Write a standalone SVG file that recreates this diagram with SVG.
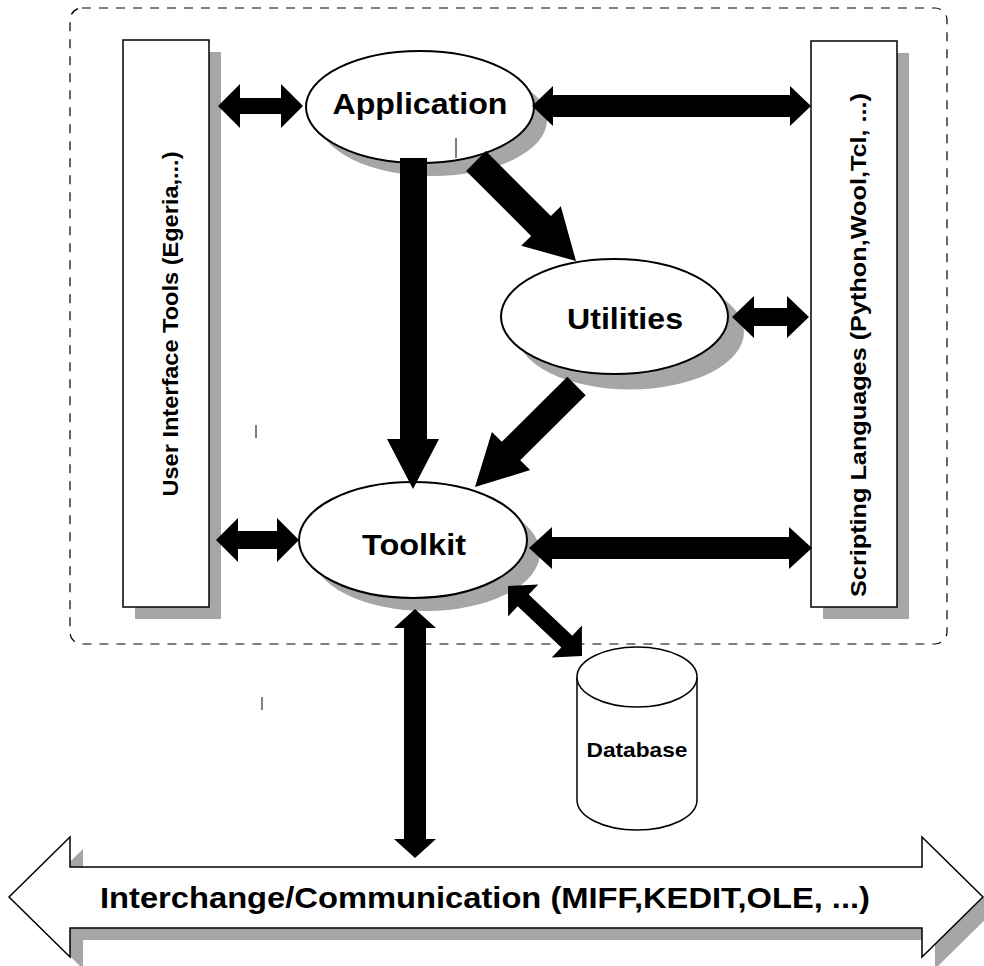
<svg xmlns="http://www.w3.org/2000/svg" width="984" height="966" viewBox="0 0 984 966">
<style>
.shadow{fill:#a6a6a6;stroke:none}
.box{fill:#fff;stroke:#000;stroke-width:1.5}
.ell{fill:#fff;stroke:#000;stroke-width:2}
.arrow{fill:#000;stroke:none}
.lbl{font-family:"Liberation Sans",Arial,sans-serif;font-weight:bold;fill:#000;text-anchor:middle}
.tick{stroke:#000;stroke-width:1}
</style>
<rect width="984" height="966" fill="#fff"/>
<g id="container">
<rect x="70" y="8" width="877" height="636" rx="12" ry="12" fill="none" stroke="#000" stroke-width="1.2" stroke-dasharray="9,8"/>
</g>
<g id="ui-tools">
<rect class="shadow" x="135" y="52" width="86" height="567"/>
<rect class="box" x="123" y="40" width="86" height="567"/>
<text class="lbl" font-size="22" x="178" y="324" transform="rotate(-90 178 324)" textLength="345" lengthAdjust="spacingAndGlyphs">User Interface Tools (Egeria,...)</text>
</g>
<g id="scripting">
<rect class="shadow" x="823" y="53" width="86" height="566"/>
<rect class="box" x="811" y="41" width="86" height="566"/>
<text class="lbl" font-size="22" x="866" y="345" transform="rotate(-90 866 345)" textLength="504" lengthAdjust="spacingAndGlyphs">Scripting Languages (Python,Wool,Tcl, ...)</text>
</g>
<g id="application">
<ellipse class="shadow" cx="433" cy="120" rx="114" ry="56"/>
<ellipse class="ell" cx="420" cy="107" rx="114" ry="56"/>
<text class="lbl" font-size="30" x="420" y="114" textLength="175" lengthAdjust="spacingAndGlyphs">Application</text>
</g>
<g id="utilities">
<ellipse class="shadow" cx="630" cy="332" rx="114" ry="57.5"/>
<ellipse class="ell" cx="614.5" cy="316.5" rx="113.5" ry="57.5"/>
<text class="lbl" font-size="30" x="625" y="329" textLength="116" lengthAdjust="spacingAndGlyphs">Utilities</text>
</g>
<g id="toolkit">
<ellipse class="shadow" cx="426" cy="553" rx="114" ry="58"/>
<ellipse class="ell" cx="413" cy="540" rx="114" ry="58"/>
<text class="lbl" font-size="30" x="414" y="555" textLength="104" lengthAdjust="spacingAndGlyphs">Toolkit</text>
</g>
<g id="database">
<path d="M577,677 L577,800 A60,30 0 0 0 697,800 L697,677" fill="#fff" stroke="#000" stroke-width="1.5"/>
<ellipse cx="637" cy="677" rx="60" ry="30" fill="#fff" stroke="#000" stroke-width="1.5"/>
<text class="lbl" font-size="21" x="637" y="757" textLength="101" lengthAdjust="spacingAndGlyphs">Database</text>
</g>
<g id="interchange">
<polygon class="shadow" points="22,909 83,849 83,879 935,879 935,849 996,909 935,969 935,940 83,940 83,969"/>
<polygon fill="#fff" stroke="#000" stroke-width="1.5" points="9,897 70,837 70,867 922,867 922,837 983,897 922,957 922,928 70,928 70,957"/>
<text class="lbl" font-size="30" x="485" y="908" textLength="770" lengthAdjust="spacingAndGlyphs">Interchange/Communication (MIFF,KEDIT,OLE, ...)</text>
</g>
<g id="connectors">
<polygon class="arrow" points="218,106 240,84 240,98 281,98 281,84 303,106 281,128 281,114 240,114 240,128"/>
<polygon class="arrow" points="532,106 553,86 553,95 790,95 790,86 811,106 790,126 790,117 553,117 553,126"/>
<polygon class="arrow" points="732,317 754,296 754,308 787,308 787,296 809,317 787,338 787,326 754,326 754,338"/>
<polygon class="arrow" points="216,540 238,518 238,531 277,531 277,518 299,540 277,562 277,549 238,549 238,562"/>
<polygon class="arrow" points="529,548 552,527 552,537 789,537 789,527 812,548 789,569 789,559 552,559 552,569"/>
<polygon class="arrow" points="400,158 427,158 427,439 439,439 413,489 387,439 400,439"/>
<polygon class="arrow" points="415,609 436,628 426,628 426,839 436,839 415,858 394,839 404,839 404,628 394,628"/>
<polygon class="arrow" points="485.9,151.1 550.9,216.1 560.8,206.2 576,261 521.2,245.8 531.1,235.9 466.1,170.9"/>
<polygon class="arrow" points="585.7,395.2 520.2,460.2 530.1,470.1 475,487 491.9,431.9 501.8,441.8 567.3,376.8"/>
<polygon class="arrow" points="508,586 538.3,584.4 528.7,594.6 572.3,635.8 581.9,625.6 582,656 551.7,657.6 561.3,647.4 517.7,606.2 508.1,616.4"/>
</g>
<g id="ticks">
<line class="tick" x1="456" y1="138" x2="456" y2="158"/>
<line class="tick" x1="256" y1="425" x2="256" y2="438"/>
<line class="tick" x1="262" y1="697" x2="262" y2="710"/>
</g>
</svg>
